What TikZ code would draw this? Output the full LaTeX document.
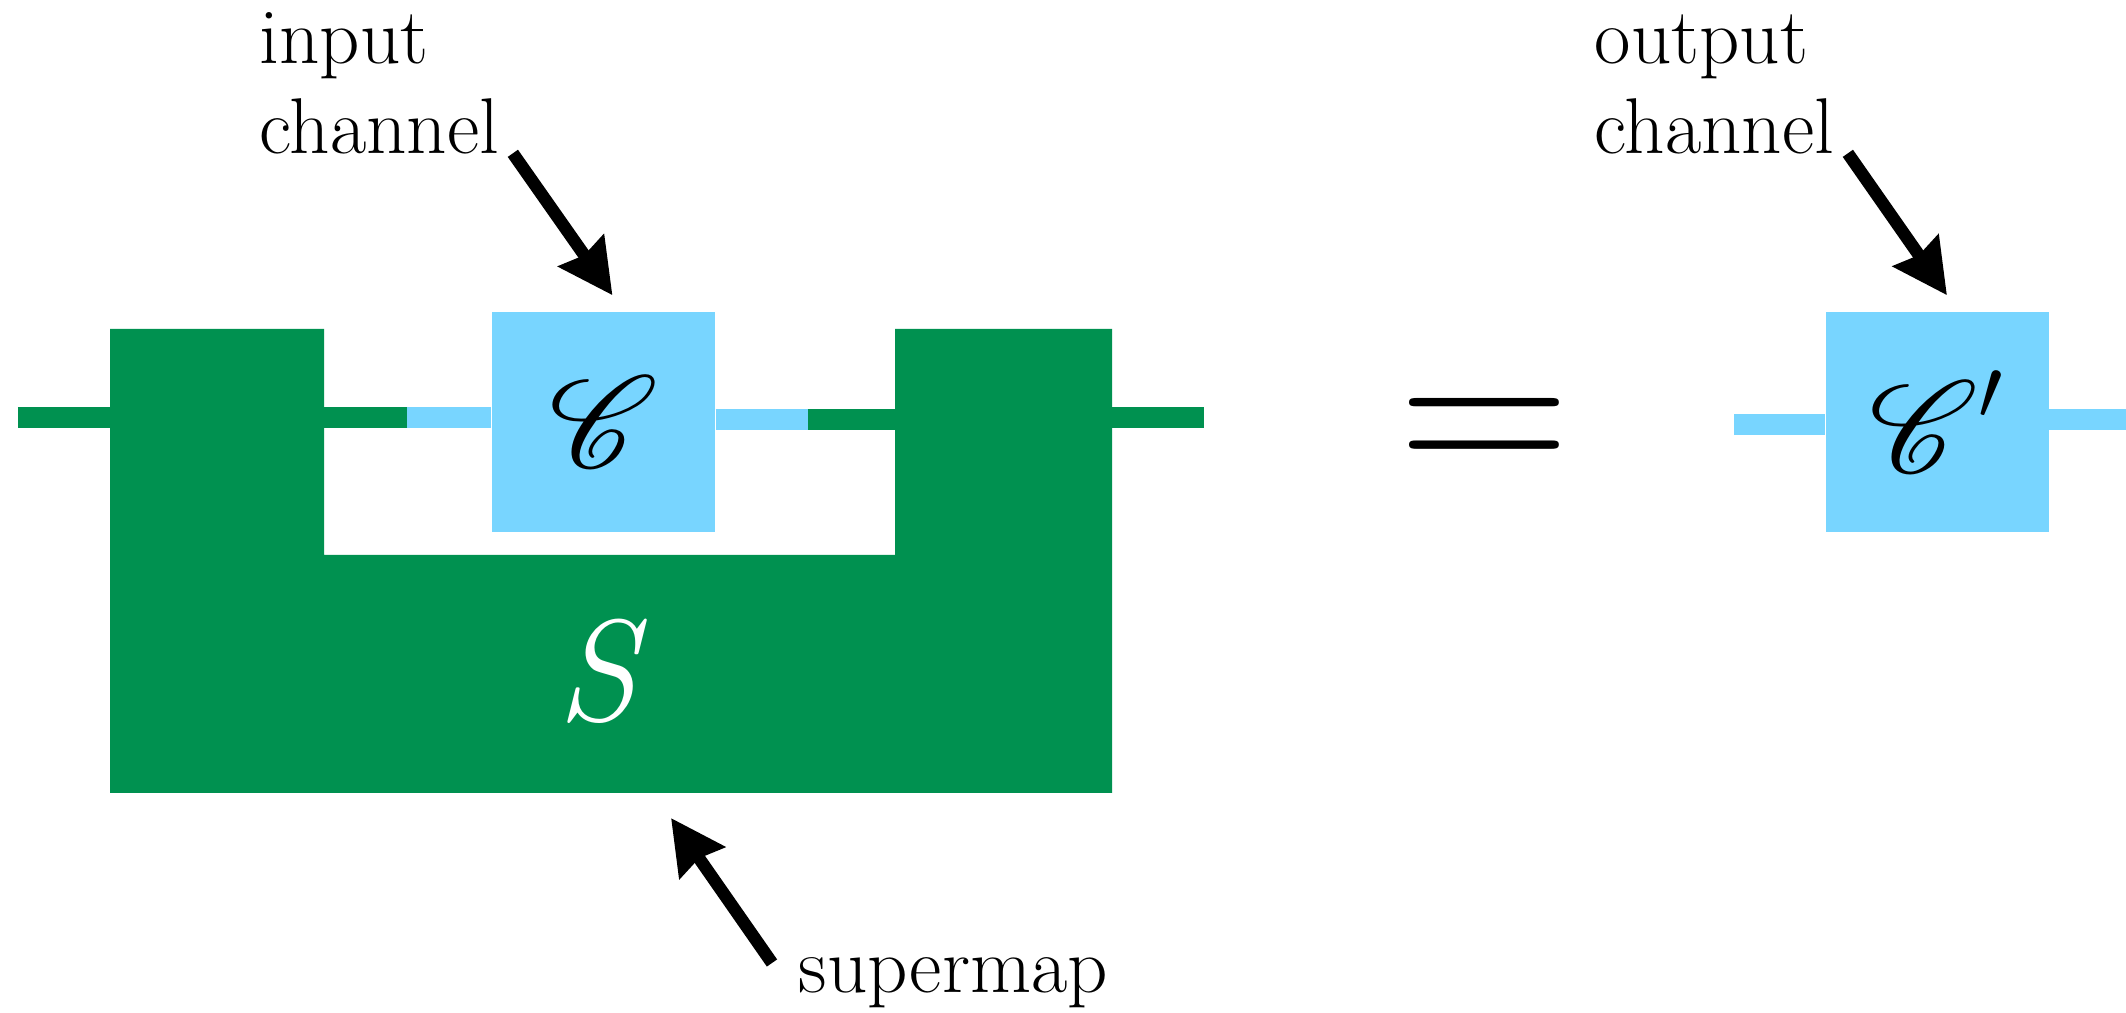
\documentclass[tikz,border=0pt]{standalone}
\usepackage{amsmath,amssymb}
\usepackage{mathrsfs}
\DeclareFontFamily{U}{rsfs}{\skewchar\font127 }
\DeclareFontShape{U}{rsfs}{m}{n}{<-> rsfs10}{}
\usepackage{tikz}
\usetikzlibrary{arrows.meta,positioning}
\usepackage{xcolor}
\definecolor{smgreen}{HTML}{009150}
\definecolor{chblue}{HTML}{78D5FF}

\begin{document}
\begin{tikzpicture}[
  chan/.style={fill=chblue, minimum width=22.3mm, minimum height=22mm,
               inner sep=0pt, font=\fontsize{37}{40}\selectfont},
  lbl/.style={align=left, inner sep=0pt, font=\fontsize{22.5}{25.8}\selectfont},
  gwire/.style={draw=smgreen, line width=2.1mm},
  bwire/.style={draw=chblue, line width=2.1mm},
  ptr/.style={-{Stealth[length=5.4mm, width=5.4mm, inset=0.5mm]}, line width=1.25mm}]
  \useasboundingbox (0,0) rectangle (21.26,10.13);
  % supermap
  \fill[smgreen] (1.10,2.20) |- (3.24,6.84) |- (8.95,4.58) |- (11.12,6.84) -- (11.12,2.20) -- cycle;
  \node[text=white, font=\fontsize{41}{44}\selectfont\itshape] (S) at (5.97,3.42) {S};
  \node[chan] (C) at (6.035,5.91) {$\mathscr{C}$};
  \node[chan] (Cp) at (19.37,5.91) {$\mathscr{C}\raisebox{6pt}{$'$}$};
  \node[inner sep=0pt, font=\fontsize{68}{70}\selectfont, anchor=base] (eq) at (14.845,5.295) {=};
  % wires
  \coordinate (w0) at (0.18,5.95);
  \coordinate (w1) at (1.10,5.95);
  \coordinate (w2) at (3.24,5.95);
  \coordinate (w3) at (4.07,5.95);
  \coordinate (w4) at (8.08,5.93);
  \coordinate (w5) at (8.95,5.93);
  \coordinate (w6) at (11.12,5.95);
  \coordinate (w7) at (12.04,5.95);
  \draw[gwire] (w0) -- (w1);
  \draw[gwire] (w2) -- (w3);
  \draw[bwire] (w3) -- (w3 -| C.west);
  \draw[bwire] (C.east |- w4) -- (w4);
  \draw[gwire] (w4) -- (w5);
  \draw[gwire] (w6) -- (w7);
  \coordinate (v0) at (17.34,5.88);
  \coordinate (v1) at (21.26,5.93);
  \draw[bwire] (v0) -- (v0 -| Cp.west);
  \draw[bwire] (Cp.east |- v1) -- (v1);
  % labels
  \node[lbl, anchor=base west] (inlbl) at (2.59,8.59) {input\\channel};
  \node[lbl, anchor=base west] (outlbl) at (15.94,8.59) {output\\channel};
  \node[lbl, anchor=base west] (smlbl) at (7.98,0.20) {supermap};
  \coordinate (smtip) at (6.71,1.95);
  \draw[ptr] ([shift={(0.13,0.02)}]inlbl.south east) -- ([shift={(0.09,0.16)}]C.north);
  \draw[ptr] ([shift={(0.13,0.02)}]outlbl.south east) -- ([shift={(0.10,0.16)}]Cp.north);
  \draw[ptr] ([shift={(-0.26,0.30)}]smlbl.base west) -- (smtip);
\end{tikzpicture}
\end{document}
